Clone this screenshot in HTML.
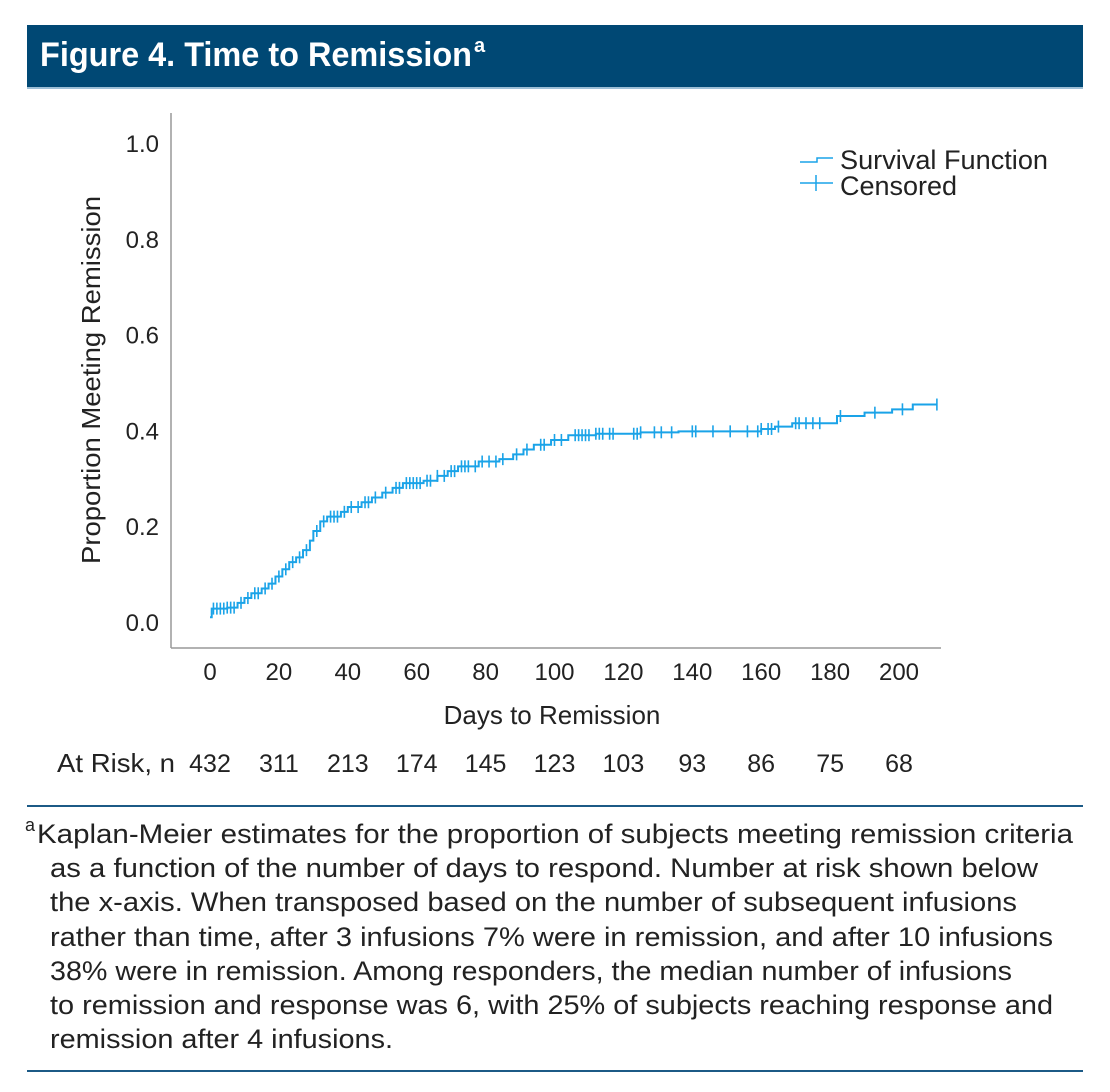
<!DOCTYPE html>
<html><head><meta charset="utf-8"><style>
html,body{margin:0;padding:0;background:#fff;}
svg{display:block;font-family:"Liberation Sans",sans-serif;}
</style></head><body>
<svg id="fig" width="1110" height="1092" viewBox="0 0 1110 1092">
<rect x="27" y="25" width="1056" height="63" fill="#004874"/>
<rect x="27" y="87" width="1056" height="2" fill="#9dbfd6"/>
<text x="40" y="66" fill="#fff" font-size="34" font-weight="bold" textLength="432" lengthAdjust="spacingAndGlyphs">Figure 4. Time to Remission</text>
<text x="474" y="52" fill="#fff" font-size="20" font-weight="bold">a</text>
<line x1="171" y1="113" x2="171" y2="648" stroke="#999" stroke-width="1.5"/>
<line x1="171" y1="648" x2="941" y2="648" stroke="#999" stroke-width="1.5"/>
<g id="yticks"></g><g id="xticks"></g><g id="risk"></g>
<text transform="translate(100,380) rotate(-90)" text-anchor="middle" font-size="26" fill="#222" textLength="368" lengthAdjust="spacingAndGlyphs">Proportion Meeting Remission</text>
<text x="552" y="724" text-anchor="middle" font-size="26" fill="#222">Days to Remission</text>
<text x="57" y="772" font-size="26" fill="#222" textLength="118" lengthAdjust="spacingAndGlyphs">At Risk, n</text>
<g id="curve"></g>
<g>
<path d="M800 162 H817 V158 H833" fill="none" stroke="#1aa3e8" stroke-width="1.5"/>
<text x="840" y="169" font-size="27" fill="#222" textLength="208" lengthAdjust="spacingAndGlyphs">Survival Function</text>
<line x1="800" y1="183" x2="833" y2="183" stroke="#1aa3e8" stroke-width="1.5"/>
<line x1="816" y1="175" x2="816" y2="191" stroke="#1aa3e8" stroke-width="1.5"/>
<text x="840" y="195" font-size="27" fill="#222">Censored</text>
</g>
<line x1="27" y1="806" x2="1083" y2="806" stroke="#1c5a86" stroke-width="2"/>
<line x1="27" y1="1071" x2="1083" y2="1071" stroke="#1c5a86" stroke-width="2"/>
<g font-size="27" fill="#222">
<text x="25" y="831" font-size="18">a</text>
<text x="37" y="843" textLength="1036" lengthAdjust="spacingAndGlyphs">Kaplan-Meier estimates for the proportion of subjects meeting remission criteria</text>
<text x="50" y="877" textLength="988" lengthAdjust="spacingAndGlyphs">as a function of the number of days to respond. Number at risk shown below</text>
<text x="50" y="911" textLength="967" lengthAdjust="spacingAndGlyphs">the x-axis. When transposed based on the number of subsequent infusions</text>
<text x="50" y="946" textLength="1003" lengthAdjust="spacingAndGlyphs">rather than time, after 3 infusions 7% were in remission, and after 10 infusions</text>
<text x="50" y="980" textLength="962" lengthAdjust="spacingAndGlyphs">38% were in remission. Among responders, the median number of infusions</text>
<text x="50" y="1014" textLength="1003" lengthAdjust="spacingAndGlyphs">to remission and response was 6, with 25% of subjects reaching response and</text>
<text x="50" y="1048" textLength="343" lengthAdjust="spacingAndGlyphs">remission after 4 infusions.</text>
</g>
</svg>
<script>
const yTickValues=[0,0.2,0.4,0.6,0.8,1.0];
const xTickValues=[0,20,40,60,80,100,120,140,160,180,200];
const riskDays=[0,20,40,60,80,100,120,140,160,180,200];
const riskCounts=[432,311,213,174,145,123,103,93,86,75,68];
const stepDays=[0,0.5,5,8,10,12,15,17,19,21,23,25,27,29,30,32,34,38,40,44,47,50,53,56,62,66,69,72,78,84,88,91,94,99,104,112,125,136,160,164,169,182,190,198,204];
const stepProps=[0.01,0.028,0.03,0.04,0.05,0.06,0.07,0.08,0.095,0.11,0.125,0.135,0.15,0.17,0.19,0.21,0.22,0.23,0.24,0.25,0.26,0.27,0.28,0.29,0.295,0.305,0.315,0.325,0.335,0.34,0.35,0.36,0.37,0.38,0.39,0.393,0.396,0.398,0.403,0.408,0.415,0.43,0.437,0.444,0.454];
const endDay=211;
const censoredDays=[1,2,3,4,5,6,7,9,11,13,14,16,18,20,22,24,26,28,31,33,35,36,37,39,41,43,45,46,48,51,54,55,57,58,59,60,61,63,64,66,68,70,71,73,74,75,77,79,81,83,85,89,92,96,97,100,102,106,107,108,109,110,112,113,114,116,117,123,124,125,129,131,134,140,141,146,151,156,159,160,162,163,165,170,171,173,175,177,183,193,201,211];
const NS='http://www.w3.org/2000/svg';
const X=d=>210+d*3.445;
const Y=p=>622-p*479;
function mk(tag,attrs,parent){const e=document.createElementNS(NS,tag);for(const k in attrs)e.setAttribute(k,attrs[k]);parent.appendChild(e);return e;}
const yt=document.getElementById('yticks');
yTickValues.forEach(v=>{const t=mk('text',{x:159,y:Y(v)+9,'text-anchor':'end','font-size':24,fill:'#222'},yt);t.textContent=v.toFixed(1);

});
const xt=document.getElementById('xticks');
xTickValues.forEach(v=>{const t=mk('text',{x:X(v),y:680,'text-anchor':'middle','font-size':24,fill:'#222'},xt);t.textContent=v;

});
const rk=document.getElementById('risk');
riskDays.forEach((d,i)=>{const t=mk('text',{x:X(d),y:772,'text-anchor':'middle','font-size':25,fill:'#222'},rk);t.textContent=riskCounts[i];

});
const cv=document.getElementById('curve');
let d='M'+X(stepDays[0])+' '+Y(stepProps[0]);
for(let i=1;i<stepDays.length;i++){d+=' H'+X(stepDays[i])+' V'+Y(stepProps[i]);}
d+=' H'+X(endDay);
const path=mk('path',{d:d,fill:'none',stroke:'#1aa3e8','stroke-width':2},cv);


function propAt(day){let p=stepProps[0];for(let i=0;i<stepDays.length;i++){if(stepDays[i]<=day)p=stepProps[i];}return p;}
censoredDays.forEach(c=>{const y=Y(propAt(c));const l=mk('line',{x1:X(c),x2:X(c),y1:y-6,y2:y+6,stroke:'#1aa3e8','stroke-width':1.6},cv);

});
</script>
</body></html>
